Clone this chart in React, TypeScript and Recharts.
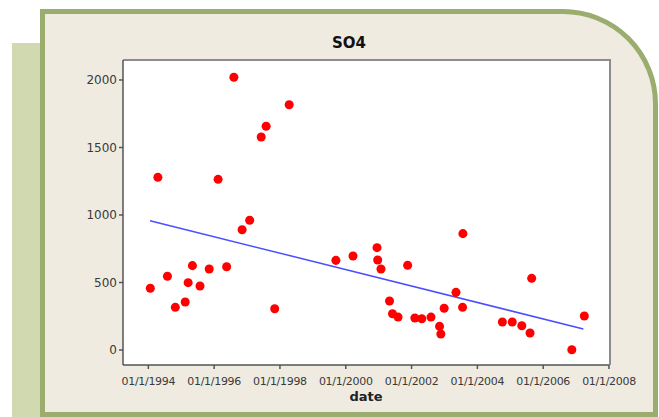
import { ScatterChart, Scatter, XAxis, YAxis, ReferenceLine } from 'recharts';

// sampling dates as decimal years
const sampleYears = [
  1994.06, 1994.29, 1994.58, 1994.82, 1995.12, 1995.21, 1995.34, 1995.57, 1995.85, 1996.12,
  1996.38, 1996.6, 1996.85, 1997.08, 1997.43, 1997.58, 1997.84, 1998.28, 1999.7, 2000.22,
  2000.95, 2000.97, 2001.07, 2001.33, 2001.42, 2001.59, 2001.88, 2002.1, 2002.31, 2002.59,
  2002.85, 2002.89, 2002.99, 2003.35, 2003.55, 2003.56, 2004.76, 2005.06, 2005.35, 2005.6,
  2005.65, 2006.87, 2007.25,
];

const so4Values = [
  457, 1279, 546, 316, 356, 499, 625, 474, 600, 1264,
  617, 2020, 891, 961, 1578, 1657, 306, 1817, 664, 696,
  758, 667, 600, 363, 269, 244, 627, 237, 232, 244,
  175, 119, 309, 427, 316, 862, 207, 207, 180, 126,
  531, 2, 252,
];

// fitted trend, start and end
const trendYears = [1994.05, 2007.22];
const trendValues = [958, 156];

const xTicks = [1994, 1996, 1998, 2000, 2002, 2004, 2006, 2008];
const yTicks = [0, 500, 1000, 1500, 2000];

const points = sampleYears.map((year, i) => ({ year, so4: so4Values[i] }));

const tickStyle = { fill: '#3a3a3a', fontFamily: 'DejaVu Sans' };

export default function App() {
  return (
    <div style={{ position: 'absolute', left: 0, top: 0, width: 659, height: 417, background: '#fff', overflow: 'hidden' }}>
      {/* side strip + framed panel */}
      <div style={{ position: 'absolute', left: 12, top: 43, width: 30, height: 374, background: '#d0d9b0' }} />
      <div
        style={{
          position: 'absolute', left: 40, top: 9, width: 618, height: 408,
          boxSizing: 'border-box', border: '5px solid #9aad6e', borderTopRightRadius: 95,
          background: '#efebe1',
        }}
      />
      <div
        style={{
          position: 'absolute', left: 40, top: 34, width: 618, textAlign: 'center',
          fontFamily: 'DejaVu Sans', fontWeight: 'bold', fontSize: 15, color: '#111',
        }}
      >
        SO4
      </div>
      {/* plot box */}
      <div
        style={{
          position: 'absolute', left: 123, top: 59, width: 488, height: 306,
          boxSizing: 'border-box', background: '#fff',
          borderTop: '2px solid #8c8c8c', borderRight: '2px solid #8c8c8c',
        }}
      />
      <div style={{ position: 'absolute', left: 0, top: 0 }}>
        <ScatterChart width={659} height={417} margin={{ top: 60, right: 50, bottom: 22, left: 63 }}>
          <XAxis
            type="number"
            dataKey="year"
            domain={[1993.23, 2008]}
            ticks={xTicks}
            tickFormatter={(v) => `01/1/${v}`}
            height={30}
            tickSize={4}
            tickMargin={8}
            stroke="#555"
            strokeWidth={1.5}
            tick={{ ...tickStyle, fontSize: 11, letterSpacing: -0.3 }}
            label={{ value: 'date', position: 'bottom', offset: -3, fill: '#222', fontFamily: 'DejaVu Sans', fontWeight: 'bold', fontSize: 13 }}
          />
          <YAxis
            type="number"
            dataKey="so4"
            domain={[-111, 2148]}
            ticks={yTicks}
            width={60}
            tickSize={4}
            tickMargin={2}
            stroke="#555"
            strokeWidth={1.5}
            tick={{ ...tickStyle, fontSize: 12 }}
          />
          <ReferenceLine
            segment={[
              { x: trendYears[0], y: trendValues[0] },
              { x: trendYears[1], y: trendValues[1] },
            ]}
            stroke="#4d4dff"
            strokeWidth={1.5}
          />
          <Scatter data={points} fill="#ff0000" isAnimationActive={false} />
        </ScatterChart>
      </div>
    </div>
  );
}
